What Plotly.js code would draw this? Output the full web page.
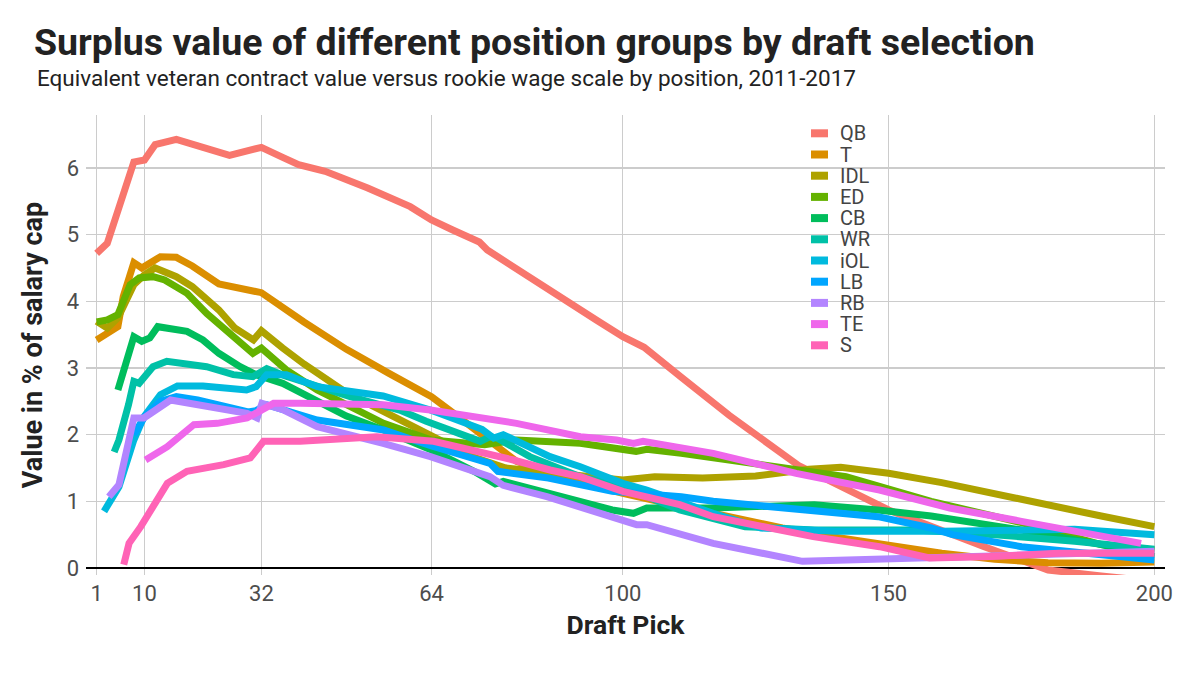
<!DOCTYPE html>
<html>
<head>
<meta charset="utf-8">
<script src="https://cdn.plot.ly/plotly-3.0.1.min.js"></script>
<style>
  html, body { margin: 0; padding: 0; background: #fff; }
  #chart { width: 1200px; height: 675px; }
</style>
</head>
<body>
<div id="chart"></div>
<script>
// position groups, in legend / draw order
const POSITIONS = ["QB", "T", "IDL", "ED", "CB", "WR", "iOL", "LB", "RB", "TE", "S"];
const COLORS = ["#F8766D", "#DB8E00", "#AEA200", "#64B200", "#00BD5C", "#00C1A7",
  "#00BADE", "#00A6FF", "#B385FF", "#EF67EB", "#FF63B6"];

const X_TICKS = [1, 10, 32, 64, 100, 150, 200];
const Y_TICKS = [0, 1, 2, 3, 4, 5, 6];

// surplus value (% of cap), per draft pick
const qbPick = [1, 3, 8, 10, 12, 16, 26, 32, 36, 39, 44, 52, 60, 64, 68, 73, 74.5, 80, 87, 95, 100, 103, 104, 111, 120, 133, 150, 168, 180, 190, 200];
const qbValue = [4.72, 4.87, 6.09, 6.12, 6.35, 6.43, 6.19, 6.31, 6.16, 6.05, 5.95, 5.7, 5.42, 5.22, 5.07, 4.89, 4.77, 4.48, 4.12, 3.72, 3.47, 3.34, 3.31, 2.86, 2.29, 1.54, 0.87, 0.32, -0.03, -0.12, -0.2];

const tPick = [1, 3, 5, 6, 8, 9.5, 13, 16, 19, 24, 32, 40, 48, 56, 64, 69, 74, 80, 90, 100, 110, 120, 130, 140, 150, 160, 170, 180, 190, 200];
const tValue = [3.42, 3.52, 3.62, 4.07, 4.58, 4.5, 4.67, 4.66, 4.53, 4.26, 4.13, 3.69, 3.28, 2.92, 2.57, 2.27, 1.97, 1.6, 1.33, 1.12, 0.94, 0.77, 0.6, 0.46, 0.34, 0.22, 0.13, 0.08, 0.07, 0.09];

const idlPick = [1, 3, 5, 8, 10, 12, 16, 19, 24, 27, 30.5, 32, 36, 40, 48, 56, 64, 72, 78, 90, 100, 106, 115, 125, 135, 141, 150, 160, 175, 190, 200];
const idlValue = [3.7, 3.6, 3.75, 4.25, 4.4, 4.5, 4.37, 4.22, 3.87, 3.6, 3.42, 3.56, 3.3, 3.06, 2.63, 2.3, 1.97, 1.66, 1.5, 1.4, 1.32, 1.37, 1.35, 1.38, 1.48, 1.51, 1.42, 1.28, 1.02, 0.78, 0.62];

const edPick = [1, 3, 5, 7.3, 9, 11.6, 13.8, 15.4, 18, 21.7, 26.7, 30.4, 32, 36.7, 42.5, 55, 64, 74, 80, 86, 92, 102.5, 104.5, 111, 117, 130, 142, 158, 175, 190, 200];
const edValue = [3.69, 3.72, 3.8, 4.25, 4.35, 4.37, 4.32, 4.25, 4.12, 3.82, 3.47, 3.22, 3.3, 2.97, 2.67, 2.17, 1.92, 1.85, 1.92, 1.9, 1.87, 1.75, 1.78, 1.72, 1.65, 1.52, 1.37, 1.0, 0.68, 0.35, 0.27];

const cbPick = [5, 8, 9.5, 11, 12.5, 16, 18, 21, 24, 28, 31, 36, 42, 48, 55, 64, 72, 76, 77.5, 86, 98, 102, 104.5, 117, 136, 148, 158, 175, 190, 200];
const cbValue = [2.67, 3.47, 3.4, 3.45, 3.62, 3.58, 3.55, 3.42, 3.22, 3.02, 2.9, 2.77, 2.52, 2.28, 2.07, 1.77, 1.45, 1.26, 1.3, 1.12, 0.87, 0.82, 0.9, 0.9, 0.95, 0.87, 0.78, 0.57, 0.35, 0.17];

const wrPick = [4.3, 5.2, 7, 8, 9, 11.6, 14.2, 18, 21.7, 26.7, 30.4, 33, 36.5, 48.7, 58, 63, 67.5, 73.2, 75, 76.3, 82.5, 92, 100, 104.5, 110.7, 123, 136, 155, 170, 185, 200];
const wrValue = [1.74, 1.92, 2.45, 2.8, 2.77, 3.02, 3.1, 3.07, 3.02, 2.9, 2.87, 2.99, 2.88, 2.57, 2.37, 2.2, 2.07, 1.9, 1.97, 1.95, 1.67, 1.37, 1.22, 1.07, 0.87, 0.62, 0.57, 0.57, 0.5, 0.4, 0.28];

const iolPick = [2.4, 5.2, 8, 9.9, 13, 16.2, 21, 26.8, 29.2, 31, 33, 36.7, 42.5, 54.9, 63.8, 73.5, 75.7, 77.5, 86.3, 92, 100, 104.5, 117, 126, 140, 160, 175, 185, 200];
const iolValue = [0.85, 1.22, 1.92, 2.27, 2.6, 2.73, 2.73, 2.67, 2.67, 2.72, 2.9, 2.9, 2.72, 2.58, 2.37, 2.08, 1.95, 2.0, 1.67, 1.52, 1.27, 1.17, 0.82, 0.6, 0.55, 0.55, 0.56, 0.58, 0.5];

const lbPick = [8, 10, 13, 16, 20, 25, 29.5, 31, 33, 42.5, 55, 64, 75, 76.5, 86, 98, 105, 111, 117, 136, 148, 158, 162, 175, 190, 200];
const lbValue = [2.0, 2.27, 2.5, 2.57, 2.52, 2.43, 2.34, 2.36, 2.45, 2.22, 2.07, 1.83, 1.57, 1.45, 1.35, 1.15, 1.12, 1.07, 1.0, 0.87, 0.77, 0.6, 0.5, 0.32, 0.2, 0.12];

const rbPick = [3.3, 5.2, 8, 9.9, 14.9, 20, 25, 29.3, 31.2, 32.1, 36.2, 42.5, 54.9, 63.8, 75, 77.5, 85.7, 92, 102.6, 104.5, 110.7, 117, 133.8, 142, 158, 168, 182, 200];
const rbValue = [1.07, 1.25, 2.25, 2.25, 2.52, 2.45, 2.38, 2.32, 2.25, 2.47, 2.37, 2.12, 1.87, 1.67, 1.37, 1.24, 1.07, 0.92, 0.65, 0.65, 0.52, 0.37, 0.1, 0.12, 0.15, 0.16, 0.22, 0.25];

const tePick = [10.2, 14.3, 19.3, 23.7, 29.3, 31.8, 34.3, 39.3, 54.9, 63.8, 80, 92, 98.8, 102, 103.8, 117, 132.6, 148.3, 161.5, 175, 197.5];
const teValue = [1.62, 1.82, 2.15, 2.17, 2.25, 2.37, 2.47, 2.47, 2.45, 2.37, 2.17, 1.97, 1.92, 1.87, 1.9, 1.72, 1.42, 1.17, 0.9, 0.7, 0.37];

const sPick = [6.1, 7.1, 9.3, 14.3, 18, 24.9, 29.9, 32.4, 39.3, 42.5, 53.7, 64.4, 75, 79.4, 86.3, 92, 100, 110.7, 117, 135.8, 148.3, 157.7, 168, 182, 200];
const sValue = [0.05, 0.37, 0.62, 1.27, 1.45, 1.55, 1.65, 1.9, 1.9, 1.92, 1.97, 1.9, 1.72, 1.62, 1.47, 1.37, 1.15, 0.95, 0.77, 0.47, 0.32, 0.15, 0.17, 0.22, 0.22];

const SERIES = [
  [qbPick, qbValue], [tPick, tValue], [idlPick, idlValue], [edPick, edValue],
  [cbPick, cbValue], [wrPick, wrValue], [iolPick, iolValue], [lbPick, lbValue],
  [rbPick, rbValue], [tePick, teValue], [sPick, sValue],
];

const FONT = "Roboto, 'Open Sans', sans-serif";

const traces = SERIES.map(([x, y], i) => ({
  type: "scatter",
  mode: "lines",
  name: POSITIONS[i],
  x: x,
  y: y,
  line: { color: COLORS[i], width: 7 },
  showlegend: false,
  hoverinfo: "skip",
}));

// legend drawn by hand: ggplot packs the keys tighter than plotly's legend can
const legendTop = 133.3; // px, centre of first key
const legendStep = 21.2;
const plotTop = 115, plotBottom = 575, plotLeft = 86, plotRight = 1165;
const toPaperX = (px) => (px - plotLeft) / (plotRight - plotLeft);
const toPaperY = (py) => (plotBottom - py) / (plotBottom - plotTop);

const shapes = [];
const annotations = [];
POSITIONS.forEach((name, i) => {
  const cy = legendTop + legendStep * i;
  shapes.push({
    type: "rect", xref: "paper", yref: "paper",
    x0: toPaperX(811), x1: toPaperX(828),
    y0: toPaperY(cy + 4), y1: toPaperY(cy - 4),
    fillcolor: COLORS[i], line: { width: 0 },
  });
  annotations.push({
    xref: "paper", yref: "paper",
    x: toPaperX(838), y: toPaperY(cy),
    xanchor: "left", yanchor: "middle",
    text: name, showarrow: false,
    font: { family: FONT, size: 20, color: "#444444" },
  });
});

// subtitle sits under the main title
annotations.push({
  xref: "paper", yref: "paper",
  x: toPaperX(35), y: toPaperY(78),
  xanchor: "left", yanchor: "middle",
  text: "Equivalent veteran contract value versus rookie wage scale by position, 2011-2017",
  showarrow: false,
  font: { family: FONT, size: 22.5, color: "#222222" },
});

const layout = {
  width: 1200,
  height: 675,
  margin: { l: plotLeft, r: 1200 - plotRight, t: plotTop, b: 675 - plotBottom },
  paper_bgcolor: "#ffffff",
  plot_bgcolor: "#ffffff",
  font: { family: FONT, color: "#4D4D4D" },
  title: {
    text: "Surplus value of different position groups by draft selection",
    font: { family: FONT, size: 37.5, weight: 700, color: "#222222" },
    xref: "container", x: 34 / 1200, xanchor: "left",
    yref: "container", y: 1 - 42 / 675, yanchor: "middle",
  },
  xaxis: {
    range: [-1, 202],
    tickvals: X_TICKS,
    ticktext: X_TICKS.map(String),
    ticks: "",
    showline: false,
    zeroline: false,
    showgrid: true,
    gridcolor: "#CCCCCC",
    gridwidth: 1.3,
    tickfont: { family: FONT, size: 22, color: "#4D4D4D" },
    ticklabelstandoff: 3,
    title: {
      text: "Draft Pick",
      font: { family: FONT, size: 26.5, weight: 700, color: "#222222" },
      standoff: 10,
    },
  },
  yaxis: {
    range: [-0.105, 6.795],
    tickvals: Y_TICKS,
    ticks: "",
    showline: false,
    showgrid: true,
    gridcolor: "#CCCCCC",
    gridwidth: 1.3,
    zeroline: true,
    zerolinecolor: "#000000",
    zerolinewidth: 2,
    tickfont: { family: FONT, size: 22, color: "#4D4D4D" },
    ticklabelstandoff: 6,
    title: {
      text: "Value in % of salary cap",
      font: { family: FONT, size: 27, weight: 700, color: "#222222" },
      standoff: 16,
    },
  },
  shapes: shapes,
  annotations: annotations,
  showlegend: false,
  hovermode: false,
};

Plotly.newPlot("chart", traces, layout, { displayModeBar: false, staticPlot: true });
</script>
</body>
</html>
